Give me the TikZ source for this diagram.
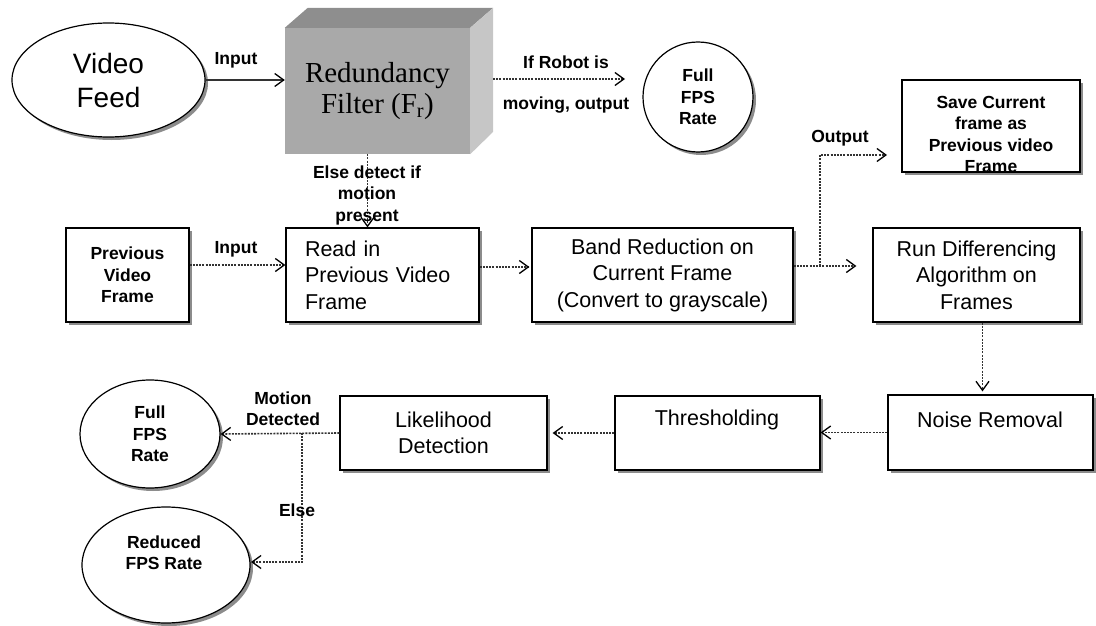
\documentclass[tikz,border=0pt]{standalone}
\usepackage{fontspec}
\setmainfont{Liberation Sans}
\newfontfamily\serifrm{Liberation Serif}
\usetikzlibrary{arrows.meta,shadows,calc,shapes.geometric}
\definecolor{frontg}{HTML}{A9A9A9}
\definecolor{topg}{HTML}{8E8E8E}
\definecolor{sideg}{HTML}{C6C6C6}
\begin{document}
\begin{tikzpicture}[x=1pt,y=-1pt,
  lblf/.style={font=\fontsize{17.5}{21.5}\selectfont\bfseries, align=center, inner sep=0pt},
  regf/.style={font=\fontsize{21.5}{26.5}\selectfont, align=center, inner sep=0pt},
  shad/.style={drop shadow={shadow xshift=3pt, shadow yshift=-3pt, fill=black!45, opacity=1}},
  pbox/.style={draw=black, line width=1.2pt, fill=white, rectangle, inner sep=0pt, shad},
  pell/.style={draw=black, line width=1.2pt, fill=white, ellipse, inner sep=0pt, shad},
  tipb/.style={-{Straight Barb[length=9pt,width=13pt,line width=1.3pt,color=black]}},
  dotarrow/.style={draw=black!80, line width=1.6pt, dash pattern=on 2pt off 1.2pt, tipb},
  solarrow/.style={draw=black!80, line width=1.2pt, tipb},
]
\useasboundingbox (0,0) rectangle (1096,626);

% ---------- top row ----------
\node[pell, minimum width=193, minimum height=114, font=\fontsize{28}{34}\selectfont, align=center] (video) at (108.5,80) {Video\\Feed};

\node[rectangle, fill=frontg, minimum width=185, minimum height=126, inner sep=0pt,
      font=\serifrm\fontsize{29}{31}\selectfont, align=center] (filter) at (377.5,91) {Redundancy\\Filter (F\textsubscript{r})};
\fill[topg] (filter.north west) -- ++(23,-20) -- ($(filter.north east)+(23,-20)$) -- (filter.north east) -- cycle;
\fill[sideg] (filter.north east) -- ++(23,-20) -- ++(0,124) -- (filter.south east) -- cycle;

\draw[solarrow] (video.east) -- (video.east -| filter.west);
\node[lblf] (in1) at (236,60) {Input};

\coordinate (fside) at (493,79);
\coordinate (robotend) at (625,79);
\draw[dotarrow] (fside) -- (robotend);
\node[lblf] (rob1) at (566,62) {If Robot is};
\node[lblf] (rob2) at (566,105) {moving, output};

\node[pell, minimum width=110, minimum height=110, lblf] (full1) at (698,97) {Full\\FPS\\Rate};

\node[pbox, minimum width=178, minimum height=92] (save) at (991,126) {};
\node[lblf] (savetxt) at (991,134.5) {Save Current\\frame as\\Previous video\\Frame};

% ---------- second row ----------
\node[pbox, minimum width=123, minimum height=94, lblf] (prev) at (127.5,275) {Previous\\Video\\Frame};
\node[pbox, minimum width=193, minimum height=94, regf, text width=155pt, align=left, inner xsep=19pt] (read) at (382.5,275) {Read in\\Previous Video\\Frame};
\node[pbox, minimum width=261, minimum height=94, regf] (band) at (662.5,275) {Band Reduction on\\Current Frame\\(Convert to grayscale)};
\node[pbox, minimum width=207, minimum height=94, regf] (run) at (976.5,275) {Run Differencing\\Algorithm on\\Frames};

\draw[dotarrow] ([yshift=10pt]prev.east) -- ([yshift=10pt]prev.east -| read.west);
\node[lblf] (in2) at (236,249) {Input};
\draw[dotarrow, shorten >=2pt] ([yshift=8pt]read.east) -- ([yshift=8pt]read.east -| band.west);
\draw[dotarrow, shorten >=16pt] ([yshift=9pt]band.east) -- ([yshift=9pt]band.east -| run.west);

\coordinate (etop) at ($(filter.south)+(-10,0)$);
\draw[dotarrow] (etop) -- (etop |- read.north);
\node[lblf] (elselbl) at (367,195) {Else detect if\\motion\\present};

\coordinate (obranch) at (820,266);
\coordinate (outend) at (887,155);
\draw[dotarrow] (obranch) |- (outend);
\node[lblf] (outlbl) at (840,138) {Output};

% ---------- third row ----------
\node[pbox, minimum width=205, minimum height=75] (noise) at (990.5,432.5) {};
\node[regf] (noisetxt) at (990,420) {Noise Removal};
\node[pbox, minimum width=205, minimum height=74] (thresh) at (717.5,433) {};
\node[regf] (threshtxt) at (717,420) {Thresholding};
\node[pbox, minimum width=207, minimum height=74, regf] (like) at (443.5,433) {Likelihood\\Detection};

\coordinate (rbot) at ($(run.south)+(6,0)$);
\draw[dotarrow, shorten >=3pt] (rbot) -- (rbot |- noise.north);
\draw[dotarrow] (noise.west) -- (noise.west -| thresh.east);
\draw[dotarrow, shorten >=5pt] (thresh.west) -- (thresh.west -| like.east);

\node[pell, minimum width=140, minimum height=108, lblf] (full2) at (150,434) {Full\\FPS\\Rate};
\node[pell, minimum width=168, minimum height=116] (reduced) at (166,565) {};
\node[lblf] (redtxt) at (164,552.5) {Reduced\\FPS Rate};

\draw[dotarrow] (like.west) -- (full2.east);
\node[lblf] (motlbl) at (283,408.5) {Motion\\Detected};
\coordinate (ebranch) at (302,433);
\coordinate (eend) at (251,562);
\draw[dotarrow] (ebranch) |- (eend);
\node[lblf] (elsel) at (297,510) {Else};
\end{tikzpicture}
\end{document}
